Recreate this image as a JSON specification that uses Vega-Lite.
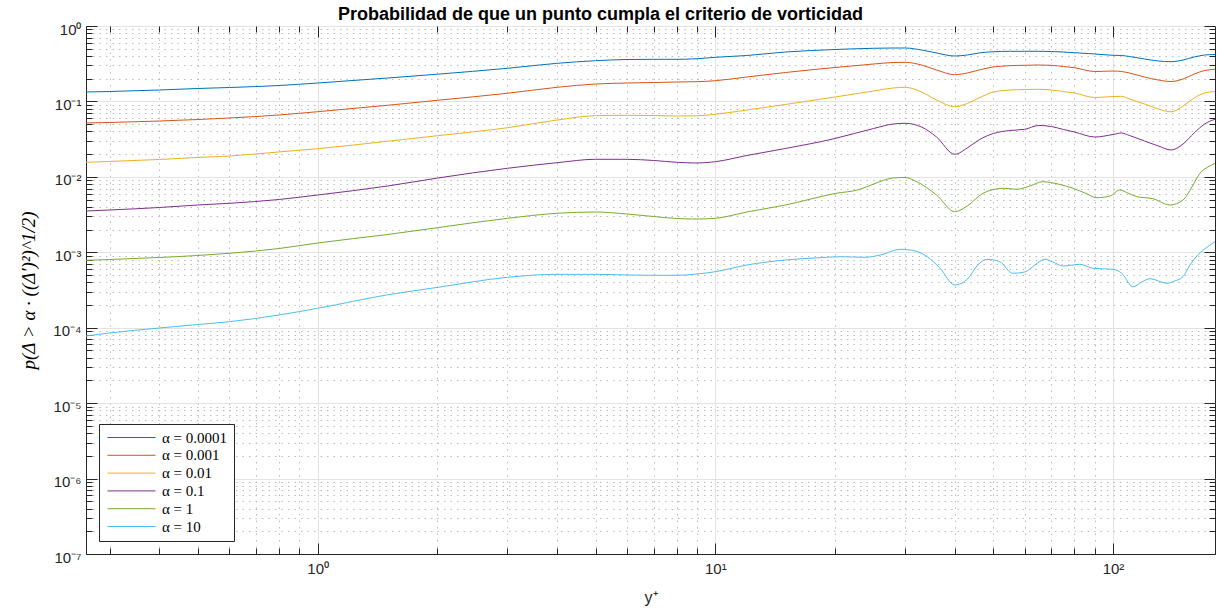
{
  "$schema": "https://vega.github.io/schema/vega-lite/v6.json",
  "width": 1129,
  "height": 528,
  "autosize": {"type": "none"},
  "padding": {"left": 86, "top": 26, "right": 2, "bottom": 62},
  "background": "white",
  "title": {
    "text": "Probabilidad de que un punto cumpla el criterio de vorticidad",
    "font": "Liberation Sans",
    "fontSize": 18,
    "fontWeight": "bold",
    "color": "#000000",
    "anchor": "middle",
    "dx": -50,
    "baseline": "bottom",
    "offset": 0,
    "dy": 20
  },
  "config": {
    "view": {"stroke": "#262626", "strokeWidth": 1},
    "axis": {
      "labelFont": "Liberation Sans",
      "labelFontSize": 14,
      "labelColor": "#262626",
      "domainColor": "#262626",
      "tickColor": "#262626",
      "titleColor": "#262626",
      "titleFontWeight": "normal"
    },
    "legend": {
      "orient": "bottom-left",
      "offset": 13,
      "fillColor": "white",
      "strokeColor": "#262626",
      "padding": 6,
      "symbolType": "M-1,0L8.6,0",
      "symbolSize": 100,
      "symbolStrokeWidth": 1,
      "labelFont": "Liberation Serif",
      "labelFontSize": 15,
      "labelColor": "#000000",
      "labelOffset": 42,
      "rowPadding": 1.8
    }
  },
  "data": {"values": [
    {"a":"α = 0.0001","x":0.2615,"y":0.1334},{"a":"α = 0.0001","x":0.3,"y":0.1354},{"a":"α = 0.0001","x":0.4,"y":0.1417},{"a":"α = 0.0001","x":0.5,"y":0.1484},{"a":"α = 0.0001","x":0.6,"y":0.153},{"a":"α = 0.0001","x":0.8,"y":0.1626},{"a":"α = 0.0001","x":1,"y":0.1755},{"a":"α = 0.0001","x":1.5,"y":0.2045},{"a":"α = 0.0001","x":2,"y":0.2296},{"a":"α = 0.0001","x":3,"y":0.2749},{"a":"α = 0.0001","x":4,"y":0.3202},{"a":"α = 0.0001","x":5,"y":0.3467},{"a":"α = 0.0001","x":6,"y":0.3596},{"a":"α = 0.0001","x":7,"y":0.3618},{"a":"α = 0.0001","x":8,"y":0.3618},{"a":"α = 0.0001","x":9,"y":0.3685},{"a":"α = 0.0001","x":10,"y":0.3846},{"a":"α = 0.0001","x":12,"y":0.4064},{"a":"α = 0.0001","x":15,"y":0.452},{"a":"α = 0.0001","x":20,"y":0.4881},{"a":"α = 0.0001","x":25,"y":0.5063},{"a":"α = 0.0001","x":28,"y":0.5108},{"a":"α = 0.0001","x":30,"y":0.5108},{"a":"α = 0.0001","x":33,"y":0.4806},{"a":"α = 0.0001","x":36,"y":0.4386},{"a":"α = 0.0001","x":40,"y":0.4001},{"a":"α = 0.0001","x":43,"y":0.4125},{"a":"α = 0.0001","x":46,"y":0.4386},{"a":"α = 0.0001","x":50,"y":0.4562},{"a":"α = 0.0001","x":55,"y":0.4618},{"a":"α = 0.0001","x":60,"y":0.4618},{"a":"α = 0.0001","x":65,"y":0.4618},{"a":"α = 0.0001","x":70,"y":0.459},{"a":"α = 0.0001","x":75,"y":0.452},{"a":"α = 0.0001","x":80,"y":0.4426},{"a":"α = 0.0001","x":90,"y":0.4254},{"a":"α = 0.0001","x":100,"y":0.4089},{"a":"α = 0.0001","x":105,"y":0.4064},{"a":"α = 0.0001","x":110,"y":0.3942},{"a":"α = 0.0001","x":120,"y":0.3651},{"a":"α = 0.0001","x":130,"y":0.3436},{"a":"α = 0.0001","x":140,"y":0.3363},{"a":"α = 0.0001","x":150,"y":0.3541},{"a":"α = 0.0001","x":160,"y":0.3882},{"a":"α = 0.0001","x":170,"y":0.4125},{"a":"α = 0.0001","x":180.5,"y":0.419},
    {"a":"α = 0.001","x":0.2615,"y":0.0518},{"a":"α = 0.001","x":0.3,"y":0.0526},{"a":"α = 0.001","x":0.4,"y":0.055},{"a":"α = 0.001","x":0.5,"y":0.0576},{"a":"α = 0.001","x":0.6,"y":0.0603},{"a":"α = 0.001","x":0.8,"y":0.0661},{"a":"α = 0.001","x":1,"y":0.0731},{"a":"α = 0.001","x":1.5,"y":0.0889},{"a":"α = 0.001","x":2,"y":0.1035},{"a":"α = 0.001","x":3,"y":0.1282},{"a":"α = 0.001","x":4,"y":0.1539},{"a":"α = 0.001","x":5,"y":0.1702},{"a":"α = 0.001","x":6,"y":0.1755},{"a":"α = 0.001","x":7,"y":0.1782},{"a":"α = 0.001","x":8,"y":0.181},{"a":"α = 0.001","x":9,"y":0.1827},{"a":"α = 0.001","x":10,"y":0.1883},{"a":"α = 0.001","x":12,"y":0.2108},{"a":"α = 0.001","x":15,"y":0.2417},{"a":"α = 0.001","x":20,"y":0.2817},{"a":"α = 0.001","x":25,"y":0.3134},{"a":"α = 0.001","x":28,"y":0.3281},{"a":"α = 0.001","x":30,"y":0.3302},{"a":"α = 0.001","x":33,"y":0.3041},{"a":"α = 0.001","x":36,"y":0.261},{"a":"α = 0.001","x":40,"y":0.2261},{"a":"α = 0.001","x":43,"y":0.2381},{"a":"α = 0.001","x":46,"y":0.261},{"a":"α = 0.001","x":50,"y":0.286},{"a":"α = 0.001","x":55,"y":0.2977},{"a":"α = 0.001","x":60,"y":0.3013},{"a":"α = 0.001","x":65,"y":0.3041},{"a":"α = 0.001","x":70,"y":0.3013},{"a":"α = 0.001","x":75,"y":0.2904},{"a":"α = 0.001","x":80,"y":0.28},{"a":"α = 0.001","x":90,"y":0.2493},{"a":"α = 0.001","x":100,"y":0.2531},{"a":"α = 0.001","x":105,"y":0.2493},{"a":"α = 0.001","x":110,"y":0.2381},{"a":"α = 0.001","x":120,"y":0.2108},{"a":"α = 0.001","x":130,"y":0.1924},{"a":"α = 0.001","x":140,"y":0.1837},{"a":"α = 0.001","x":150,"y":0.1983},{"a":"α = 0.001","x":160,"y":0.231},{"a":"α = 0.001","x":170,"y":0.257},{"a":"α = 0.001","x":180.5,"y":0.2667},
    {"a":"α = 0.01","x":0.2615,"y":0.0156},{"a":"α = 0.01","x":0.3,"y":0.016},{"a":"α = 0.01","x":0.4,"y":0.017},{"a":"α = 0.01","x":0.5,"y":0.0181},{"a":"α = 0.01","x":0.6,"y":0.0189},{"a":"α = 0.01","x":0.8,"y":0.0214},{"a":"α = 0.01","x":1,"y":0.0236},{"a":"α = 0.01","x":1.5,"y":0.0297},{"a":"α = 0.01","x":2,"y":0.0351},{"a":"α = 0.01","x":3,"y":0.0448},{"a":"α = 0.01","x":4,"y":0.0567},{"a":"α = 0.01","x":5,"y":0.0647},{"a":"α = 0.01","x":6,"y":0.0655},{"a":"α = 0.01","x":7,"y":0.0651},{"a":"α = 0.01","x":8,"y":0.0641},{"a":"α = 0.01","x":9,"y":0.0645},{"a":"α = 0.01","x":10,"y":0.0675},{"a":"α = 0.01","x":12,"y":0.077},{"a":"α = 0.01","x":15,"y":0.0911},{"a":"α = 0.01","x":20,"y":0.1145},{"a":"α = 0.01","x":25,"y":0.1375},{"a":"α = 0.01","x":28,"y":0.1507},{"a":"α = 0.01","x":30,"y":0.1539},{"a":"α = 0.01","x":33,"y":0.1334},{"a":"α = 0.01","x":36,"y":0.1045},{"a":"α = 0.01","x":40,"y":0.0851},{"a":"α = 0.01","x":43,"y":0.0939},{"a":"α = 0.01","x":46,"y":0.111},{"a":"α = 0.01","x":50,"y":0.1334},{"a":"α = 0.01","x":55,"y":0.1417},{"a":"α = 0.01","x":60,"y":0.1439},{"a":"α = 0.01","x":65,"y":0.1448},{"a":"α = 0.01","x":70,"y":0.1417},{"a":"α = 0.01","x":75,"y":0.1354},{"a":"α = 0.01","x":80,"y":0.1293},{"a":"α = 0.01","x":90,"y":0.1127},{"a":"α = 0.01","x":100,"y":0.1162},{"a":"α = 0.01","x":105,"y":0.1169},{"a":"α = 0.01","x":110,"y":0.1077},{"a":"α = 0.01","x":120,"y":0.0925},{"a":"α = 0.01","x":130,"y":0.0793},{"a":"α = 0.01","x":140,"y":0.0728},{"a":"α = 0.01","x":150,"y":0.087},{"a":"α = 0.01","x":160,"y":0.111},{"a":"α = 0.01","x":170,"y":0.1293},{"a":"α = 0.01","x":180.5,"y":0.1354},
    {"a":"α = 0.1","x":0.2615,"y":0.003526},{"a":"α = 0.1","x":0.3,"y":0.003636},{"a":"α = 0.1","x":0.4,"y":0.003925},{"a":"α = 0.1","x":0.5,"y":0.004235},{"a":"α = 0.1","x":0.6,"y":0.004461},{"a":"α = 0.1","x":0.8,"y":0.005011},{"a":"α = 0.1","x":1,"y":0.005748},{"a":"α = 0.1","x":1.5,"y":0.007565},{"a":"α = 0.1","x":2,"y":0.00963},{"a":"α = 0.1","x":3,"y":0.01299},{"a":"α = 0.1","x":4,"y":0.01541},{"a":"α = 0.1","x":5,"y":0.01709},{"a":"α = 0.1","x":6,"y":0.01709},{"a":"α = 0.1","x":7,"y":0.01648},{"a":"α = 0.1","x":8,"y":0.0156},{"a":"α = 0.1","x":9,"y":0.01527},{"a":"α = 0.1","x":10,"y":0.01589},{"a":"α = 0.1","x":12,"y":0.01919},{"a":"α = 0.1","x":15,"y":0.02377},{"a":"α = 0.1","x":20,"y":0.03225},{"a":"α = 0.1","x":25,"y":0.04376},{"a":"α = 0.1","x":28,"y":0.05022},{"a":"α = 0.1","x":30,"y":0.05129},{"a":"α = 0.1","x":33,"y":0.04581},{"a":"α = 0.1","x":36,"y":0.03376},{"a":"α = 0.1","x":40,"y":0.01991},{"a":"α = 0.1","x":43,"y":0.02414},{"a":"α = 0.1","x":46,"y":0.03082},{"a":"α = 0.1","x":50,"y":0.03756},{"a":"α = 0.1","x":55,"y":0.04117},{"a":"α = 0.1","x":60,"y":0.04271},{"a":"α = 0.1","x":65,"y":0.04797},{"a":"α = 0.1","x":70,"y":0.04652},{"a":"α = 0.1","x":75,"y":0.04245},{"a":"α = 0.1","x":80,"y":0.03933},{"a":"α = 0.1","x":90,"y":0.03376},{"a":"α = 0.1","x":100,"y":0.03644},{"a":"α = 0.1","x":105,"y":0.03816},{"a":"α = 0.1","x":110,"y":0.03535},{"a":"α = 0.1","x":120,"y":0.02988},{"a":"α = 0.1","x":130,"y":0.02565},{"a":"α = 0.1","x":140,"y":0.02271},{"a":"α = 0.1","x":150,"y":0.02726},{"a":"α = 0.1","x":160,"y":0.03816},{"a":"α = 0.1","x":170,"y":0.05022},{"a":"α = 0.1","x":180.5,"y":0.05794},
    {"a":"α = 1","x":0.2615,"y":0.000783},{"a":"α = 1","x":0.3,"y":0.000802},{"a":"α = 1","x":0.4,"y":0.000853},{"a":"α = 1","x":0.5,"y":0.000907},{"a":"α = 1","x":0.6,"y":0.00097},{"a":"α = 1","x":0.8,"y":0.001122},{"a":"α = 1","x":1,"y":0.001328},{"a":"α = 1","x":1.5,"y":0.001721},{"a":"α = 1","x":2,"y":0.002118},{"a":"α = 1","x":3,"y":0.002822},{"a":"α = 1","x":4,"y":0.003288},{"a":"α = 1","x":5,"y":0.00342},{"a":"α = 1","x":6,"y":0.003217},{"a":"α = 1","x":7,"y":0.00298},{"a":"α = 1","x":8,"y":0.002805},{"a":"α = 1","x":9,"y":0.002762},{"a":"α = 1","x":10,"y":0.002822},{"a":"α = 1","x":12,"y":0.00342},{"a":"α = 1","x":15,"y":0.004235},{"a":"α = 1","x":20,"y":0.006017},{"a":"α = 1","x":23.1,"y":0.006841},{"a":"α = 1","x":25,"y":0.008038},{"a":"α = 1","x":28,"y":0.009658},{"a":"α = 1","x":30,"y":0.009806},{"a":"α = 1","x":32.1,"y":0.008624},{"a":"α = 1","x":36,"y":0.005748},{"a":"α = 1","x":40,"y":0.003452},{"a":"α = 1","x":43,"y":0.004108},{"a":"α = 1","x":47.1,"y":0.006053},{"a":"α = 1","x":52.9,"y":0.007053},{"a":"α = 1","x":57.3,"y":0.006841},{"a":"α = 1","x":61.8,"y":0.007565},{"a":"α = 1","x":66.6,"y":0.008624},{"a":"α = 1","x":72.7,"y":0.008038},{"a":"α = 1","x":79.3,"y":0.007053},{"a":"α = 1","x":85,"y":0.006109},{"a":"α = 1","x":91.1,"y":0.005293},{"a":"α = 1","x":98.2,"y":0.005573},{"a":"α = 1","x":104.1,"y":0.006694},{"a":"α = 1","x":109,"y":0.006109},{"a":"α = 1","x":114.8,"y":0.005458},{"a":"α = 1","x":126,"y":0.005134},{"a":"α = 1","x":139,"y":0.004235},{"a":"α = 1","x":150,"y":0.004934},{"a":"α = 1","x":157.9,"y":0.007337},{"a":"α = 1","x":165.4,"y":0.01115},{"a":"α = 1","x":173.2,"y":0.01351},{"a":"α = 1","x":180.5,"y":0.01513},
    {"a":"α = 10","x":0.2615,"y":0.0000777},{"a":"α = 10","x":0.3,"y":0.0000851},{"a":"α = 10","x":0.4,"y":0.0000992},{"a":"α = 10","x":0.5,"y":0.0001103},{"a":"α = 10","x":0.6,"y":0.0001202},{"a":"α = 10","x":0.8,"y":0.0001475},{"a":"α = 10","x":1,"y":0.0001809},{"a":"α = 10","x":1.5,"y":0.0002732},{"a":"α = 10","x":2,"y":0.0003424},{"a":"α = 10","x":3,"y":0.000466},{"a":"α = 10","x":4,"y":0.0005107},{"a":"α = 10","x":5,"y":0.0005107},{"a":"α = 10","x":6,"y":0.0004999},{"a":"α = 10","x":7,"y":0.0004953},{"a":"α = 10","x":8,"y":0.0004953},{"a":"α = 10","x":9,"y":0.0005154},{"a":"α = 10","x":10,"y":0.0005528},{"a":"α = 10","x":12,"y":0.0006783},{"a":"α = 10","x":15,"y":0.0007902},{"a":"α = 10","x":18.3,"y":0.0008478},{"a":"α = 10","x":20.6,"y":0.000874},{"a":"α = 10","x":23.8,"y":0.0008582},{"a":"α = 10","x":26,"y":0.0009207},{"a":"α = 10","x":29.2,"y":0.001095},{"a":"α = 10","x":31.8,"y":0.00104},{"a":"α = 10","x":34.1,"y":0.000874},{"a":"α = 10","x":36.7,"y":0.0006188},{"a":"α = 10","x":40,"y":0.0003684},{"a":"α = 10","x":43,"y":0.0004384},{"a":"α = 10","x":45.7,"y":0.0006783},{"a":"α = 10","x":48.2,"y":0.0008072},{"a":"α = 10","x":51.9,"y":0.0007503},{"a":"α = 10","x":56,"y":0.0005265},{"a":"α = 10","x":60,"y":0.0005477},{"a":"α = 10","x":63.6,"y":0.0006783},{"a":"α = 10","x":67.4,"y":0.0008072},{"a":"α = 10","x":70.6,"y":0.0007435},{"a":"α = 10","x":75,"y":0.0006579},{"a":"α = 10","x":82.6,"y":0.000693},{"a":"α = 10","x":89,"y":0.0006134},{"a":"α = 10","x":100,"y":0.0005949},{"a":"α = 10","x":105,"y":0.0005314},{"a":"α = 10","x":112.2,"y":0.0003497},{"a":"α = 10","x":118.2,"y":0.0004037},{"a":"α = 10","x":123.8,"y":0.0004466},{"a":"α = 10","x":136.6,"y":0.0003881},{"a":"α = 10","x":143,"y":0.0004163},{"a":"α = 10","x":150,"y":0.0004747},{"a":"α = 10","x":156.1,"y":0.0006783},{"a":"α = 10","x":162.5,"y":0.0008929},{"a":"α = 10","x":170,"y":0.001105},{"a":"α = 10","x":180.5,"y":0.001382}
  ]},
  "layer": [
    {
      "mark": {"type": "line", "interpolate": "monotone", "strokeWidth": 1, "clip": true},
      "encoding": {
        "x": {
          "field": "x", "type": "quantitative",
          "scale": {"type": "log", "domain": [0.2615, 180.5], "nice": false},
          "axis": {
            "orient": "bottom",
            "title": "y⁺",
            "titleFont": "Liberation Sans",
            "titleFontSize": 16,
            "titlePadding": 8,
            "values": [0.3,0.4,0.5,0.6,0.7,0.8,0.9,1,2,3,4,5,6,7,8,9,10,20,30,40,50,60,70,80,90,100],
            "labelExpr": "abs(log(datum.value)/LN10 - round(log(datum.value)/LN10)) < 0.001 ? '10' + ['⁰','¹','²'][round(log(datum.value)/LN10)] : ''",
            "labelFontSize": 15,
            "labelPadding": 18,
            "labelFlush": false,
            "labelOverlap": false,
            "tickSize": {"condition": {"test": "abs(log(datum.value)/LN10 - round(log(datum.value)/LN10)) < 0.001", "value": -11}, "value": -6},
            "grid": true,
            "gridColor": {"condition": {"test": "abs(log(datum.value)/LN10 - round(log(datum.value)/LN10)) < 0.001", "value": "#e3e3e3"}, "value": "#bcbcbc"},
            "gridDash": {"condition": {"test": "abs(log(datum.value)/LN10 - round(log(datum.value)/LN10)) < 0.001", "value": []}, "value": [1.5, 5]}
          }
        },
        "y": {
          "field": "y", "type": "quantitative",
          "scale": {"type": "log", "domain": [1e-7, 1], "nice": false},
          "axis": {
            "orient": "left",
            "title": "p(Δ > α · ((Δ′)²)^1/2)",
            "titleFont": "Liberation Serif",
            "titleFontSize": 19,
            "titleFontStyle": "italic",
            "titleColor": "#000000",
            "titlePadding": 14,
            "values": [1e-7,2e-7,3e-7,4e-7,5e-7,6e-7,7e-7,8e-7,9e-7,1e-6,2e-6,3e-6,4e-6,5e-6,6e-6,7e-6,8e-6,9e-6,1e-5,2e-5,3e-5,4e-5,5e-5,6e-5,7e-5,8e-5,9e-5,0.0001,0.0002,0.0003,0.0004,0.0005,0.0006,0.0007,0.0008,0.0009,0.001,0.002,0.003,0.004,0.005,0.006,0.007,0.008,0.009,0.01,0.02,0.03,0.04,0.05,0.06,0.07,0.08,0.09,0.1,0.2,0.3,0.4,0.5,0.6,0.7,0.8,0.9,1],
            "labelExpr": "abs(log(datum.value)/LN10 - round(log(datum.value)/LN10)) < 0.001 ? '10' + ['⁰','⁻¹','⁻²','⁻³','⁻⁴','⁻⁵','⁻⁶','⁻⁷'][-round(log(datum.value)/LN10)] : ''",
            "labelFontSize": 15,
            "labelPadding": 16,
            "labelFlush": false,
            "labelOverlap": false,
            "labelOffset": 3,
            "tickSize": {"condition": {"test": "abs(log(datum.value)/LN10 - round(log(datum.value)/LN10)) < 0.001", "value": -11}, "value": -6},
            "grid": true,
            "gridColor": {"condition": {"test": "abs(log(datum.value)/LN10 - round(log(datum.value)/LN10)) < 0.001", "value": "#e3e3e3"}, "value": "#bcbcbc"},
            "gridDash": {"condition": {"test": "abs(log(datum.value)/LN10 - round(log(datum.value)/LN10)) < 0.001", "value": []}, "value": [1.5, 5]}
          }
        },
        "color": {
          "field": "a", "type": "nominal",
          "scale": {
            "domain": ["α = 0.0001","α = 0.001","α = 0.01","α = 0.1","α = 1","α = 10"],
            "range": ["#0072BD","#D95319","#EDB120","#7E2F8E","#77AC30","#4DBEEE"]
          },
          "legend": {"title": null}
        }
      }
    },
    {
      "mark": {"type": "line", "opacity": 0},
      "encoding": {
        "x": {
          "field": "x", "type": "quantitative",
          "scale": {"type": "log", "domain": [0.2615, 180.5], "nice": false},
          "axis": {
            "orient": "top", "title": null, "labels": false, "grid": false, "domain": false,
            "values": [0.3,0.4,0.5,0.6,0.7,0.8,0.9,1,2,3,4,5,6,7,8,9,10,20,30,40,50,60,70,80,90,100],
            "tickSize": {"condition": {"test": "abs(log(datum.value)/LN10 - round(log(datum.value)/LN10)) < 0.001", "value": -11}, "value": -6}
          }
        },
        "y": {
          "field": "y", "type": "quantitative",
          "scale": {"type": "log", "domain": [1e-7, 1], "nice": false},
          "axis": {
            "orient": "right", "title": null, "labels": false, "grid": false, "domain": false,
            "values": [1e-7,2e-7,3e-7,4e-7,5e-7,6e-7,7e-7,8e-7,9e-7,1e-6,2e-6,3e-6,4e-6,5e-6,6e-6,7e-6,8e-6,9e-6,1e-5,2e-5,3e-5,4e-5,5e-5,6e-5,7e-5,8e-5,9e-5,0.0001,0.0002,0.0003,0.0004,0.0005,0.0006,0.0007,0.0008,0.0009,0.001,0.002,0.003,0.004,0.005,0.006,0.007,0.008,0.009,0.01,0.02,0.03,0.04,0.05,0.06,0.07,0.08,0.09,0.1,0.2,0.3,0.4,0.5,0.6,0.7,0.8,0.9,1],
            "tickSize": {"condition": {"test": "abs(log(datum.value)/LN10 - round(log(datum.value)/LN10)) < 0.001", "value": -11}, "value": -6}
          }
        },
        "detail": {"field": "a", "type": "nominal"}
      }
    }
  ],
  "resolve": {"axis": {"x": "independent", "y": "independent"}}
}
